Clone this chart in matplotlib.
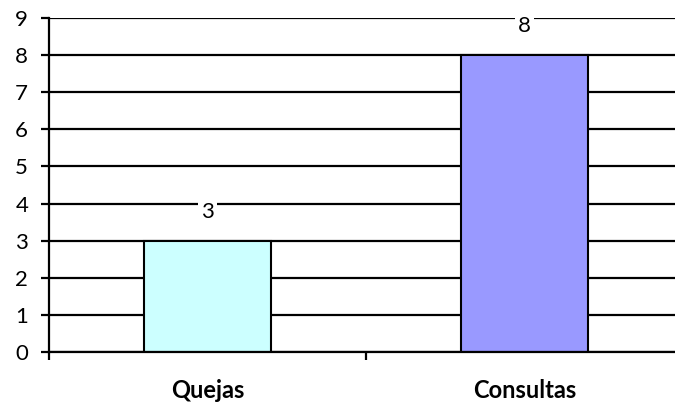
import matplotlib
matplotlib.use("Agg")
import matplotlib.pyplot as plt

categories = ["Quejas", "Consultas"]
values = [3, 8]
colors = ["#CCFFFF", "#9999FF"]
yticks = [0, 1, 2, 3, 4, 5, 6, 7, 8, 9]

plt.rcParams['font.family'] = ['Lato', 'DejaVu Sans']

fig = plt.figure(figsize=(6.75, 4.09), dpi=100)
ax = fig.add_axes([49/675, 1-352/409, (683-49)/675, (352-18)/409])

x = list(range(len(categories)))
ax.set_axisbelow(True)
ax.bar(x, values, width=0.4, color=colors, edgecolor="black", linewidth=1.5, zorder=3)

ax.set_xlim(-0.5, len(categories) - 0.5)
ax.set_ylim(0, 9)
ax.set_yticks(yticks)
ax.set_yticklabels([str(t) for t in yticks], fontsize=16)
ax.set_xticks([-0.5, 0.5, 1.5])
ax.set_xticklabels([])
ax.tick_params(axis='both', direction='out', length=6, width=1.6, color='black')
ax.tick_params(axis='y', pad=9)

ax.yaxis.grid(True, color='black', linewidth=1.6)
ax.xaxis.grid(False)
for s in ['top', 'right']:
    ax.spines[s].set_visible(False)
for s in ['left', 'bottom']:
    ax.spines[s].set_linewidth(1.6)
    ax.spines[s].set_zorder(4)

for xi, v in zip(x, values):
    ax.annotate(str(v), xy=(xi, v), xytext=(0, 21), textcoords='offset points',
                ha='center', va='center', fontsize=16, zorder=5,
                bbox=dict(facecolor='white', edgecolor='none', pad=2))

for xi, c in zip(x, categories):
    ax.text(xi, -1.03, c, ha='center', va='center', fontsize=17, fontweight='bold')

fig.savefig("out.png", dpi=100)
